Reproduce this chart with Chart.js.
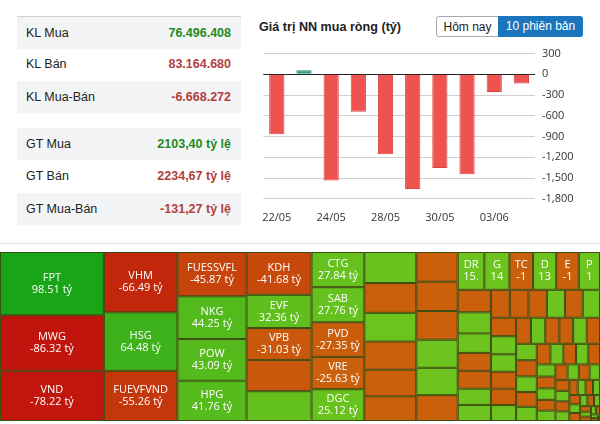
<!DOCTYPE html>
<html>
<head>
<meta charset="utf-8">
<script src="https://cdn.jsdelivr.net/npm/chart.js@4.4.1/dist/chart.umd.min.js"></script>
<style>
  body { margin: 0; width: 600px; height: 424px; background: #fff; position: relative; overflow: hidden;
         font-family: "Liberation Sans", Arial, sans-serif; }
  .row { position: absolute; left: 17px; width: 224px; height: 32.4px; line-height: 32.4px; font-size: 12.5px; color: #222; }
  .row.alt { background: #f3f4f6; }
  .row span { position: absolute; right: 10px; font-weight: bold; }
  .lbl { position: absolute; left: 9px; }
  .up { color: #238a23; }
  .down { color: #b0413e; }
  #title { position: absolute; left: 259px; top: 20px; font-size: 12.6px; font-weight: bold; color: #222; }
  .btn { position: absolute; top: 16px; height: 21px; line-height: 21px; font-size: 12px; text-align: center; box-sizing: border-box; }
  #b1 { left: 436px; width: 63px; border: 1px solid #aaa; border-radius: 3px 0 0 3px; color: #222; }
  #b2 { left: 498px; width: 85px; background: #1b75bc; color: #fff; border-radius: 0 3px 3px 0; }
  #sep { position: absolute; left: 0; top: 243px; width: 600px; height: 1px; background: #e4e4e4; }
  #barWrap { position: absolute; left: 258px; top: 40px; }
  #mapWrap { position: absolute; left: 0; top: 252px; }
</style>
</head>
<body>
<div id="tables"></div>
<div id="title">Giá trị NN mua ròng (tỷ)</div>
<div class="btn" id="b1">Hôm nay</div>
<div class="btn" id="b2">10 phiên bản</div>
<div id="sep"></div>
<div id="barWrap"><canvas id="barChart" width="342" height="188"></canvas></div>
<div id="mapWrap"><canvas id="mapChart" width="600" height="169"></canvas></div>
<script>
// left summary tables
const statLabels = ['KL Mua', 'KL Bán', 'KL Mua-Bán', 'GT Mua', 'GT Bán', 'GT Mua-Bán'];
const statValues = ['76.496.408', '83.164.680', '-6.668.272', '2103,40 tỷ lệ', '2234,67 tỷ lệ', '-131,27 tỷ lệ'];
const statClass = ['up', 'down', 'down', 'up', 'down', 'down'];

// net foreign buy, last 10 sessions
const barDates = ['22/05', '23/05', '24/05', '27/05', '28/05', '29/05', '30/05', '31/05', '03/06', '04/06'];
const barValues = [-865, 60, -1535, -540, -1155, -1660, -1355, -1445, -255, -131.27];
const yMin = -1800, yMax = 300, yStep = 300;

// treemap: ticker and net value (tỷ), sorted by size
const treemapNames = ['FPT', 'MWG', 'VND', 'VHM', 'HSG', 'FUEVFVND', 'FUESSVFL', 'NKG', 'POW', 'HPG',
  'KDH', 'EVF', 'VPB', '', '', 'CTG', 'SAB', 'PVD', 'VRE', 'DGC'];
const treemapValues = [98.51, -86.32, -78.22, -66.49, 64.48, -55.26, -45.87, 44.25, 43.09, 41.76,
  -41.68, 32.36, -31.03, -30.5, 29.0, 27.84, 27.76, -27.35, -25.63, 25.12,
  24.2, -23.2, 22.4, -21.9, -20.8, -19.2,
  -18.4, -18.2, -17.8, 17.4, 17.0, -16.0,
  15.1, 14.2, -13.4, 13.1, -12.8, 12.0,
  -11.2, 10.5, 9.7, -8.9, -8.9, 8.1,
  8.0, -7.9, -7.8, -7.7, 7.6, -7.4, 7.2, -7.0, 6.8, 6.6, -6.4, -6.2, 6.0, -5.8, 5.6, -5.5, -5.4, 5.3,
  -5.2, 5.1, -5.0, 4.8, -4.6, 4.4, -4.2, 4.0, -3.9, 3.8, -3.6, 3.4, -3.3, 3.2, -3.0, 2.9, -2.8, 2.6,
  -2.5, 2.4, -2.3, 2.2, -2.1, 2.0, -1.9, 1.8, -1.7, 1.6, -1.5, 1.4, -1.3, 1.2, -1.1, 1.0, -0.9, 0.8,
  -0.7, 0.6, -0.5, 0.4, -0.3, 0.2];
// the small cells in the top strip carry short labels
const smallLabels = { 32: 'DR', 33: 'G', 34: 'TC', 35: 'D', 36: 'E', 37: 'P' };

const tables = document.getElementById('tables');
statLabels.forEach((lbl, i) => {
  const k = i % 3;
  const top = (i < 3 ? 16 : 128) + k * 32.4;
  const d = document.createElement('div');
  d.className = 'row' + (k !== 1 ? ' alt' : '');
  d.style.top = top + 'px';
  if (i === 0) d.style.borderTop = '1px solid #d0d0d0';
  d.innerHTML = '<div class="lbl">' + lbl + '</div><span class="' + statClass[i] + '">' + statValues[i] + '</span>';
  tables.appendChild(d);
});

new Chart(document.getElementById('barChart'), {
  type: 'bar',
  data: {
    labels: barDates,
    datasets: [{
      data: barValues,
      backgroundColor: barValues.map(v => v >= 0 ? '#2a9d8f' : '#ef5350'),
      borderColor: barValues.map(v => v >= 0 ? '#23897c' : '#d94545'),
      borderWidth: 1,
      barPercentage: 0.56,
      categoryPercentage: 1
    }]
  },
  options: {
    responsive: false,
    animation: false,
    layout: { padding: { left: 4, top: 10 } },
    plugins: { legend: { display: false }, tooltip: { enabled: false } },
    scales: {
      x: {
        grid: { display: false },
        border: { display: false },
        ticks: {
          autoSkip: false, maxRotation: 0, padding: 4, color: '#333',
          font: { family: 'Open Sans', size: 11 },
          callback: (v, i) => i % 2 === 0 ? barDates[i] : ''
        }
      },
      y: {
        position: 'right',
        min: yMin, max: yMax,
        afterFit: s => { s.width = 65; },
        grid: {
          drawTicks: false,
          color: c => c.tick.value === 0 ? '#222' : '#cfcfcf'
        },
        border: { display: false },
        ticks: { stepSize: yStep, padding: 7, color: '#333', font: { family: 'Open Sans', size: 11 } }
      }
    }
  }
});

// squarified layout (same rule as d3.treemapSquarify)
function squarify(values, x0, y0, x1, y1) {
  const out = [];
  const ratio = (1 + Math.sqrt(5)) / 2;
  let total = values.reduce((a, b) => a + b, 0);
  let i0 = 0;
  while (i0 < values.length) {
    const dx = x1 - x0, dy = y1 - y0;
    let i1 = i0;
    let sum = values[i1++], min = sum, max = sum;
    const alpha = Math.max(dy / dx, dx / dy) / (total * ratio);
    let beta = sum * sum * alpha;
    let best = Math.max(max / beta, beta / min);
    for (; i1 < values.length; i1++) {
      const v = values[i1];
      const s = sum + v, mn = Math.min(min, v), mx = Math.max(max, v);
      beta = s * s * alpha;
      const r = Math.max(mx / beta, beta / mn);
      if (r > best) break;
      sum = s; min = mn; max = mx; best = r;
    }
    const row = values.slice(i0, i1);
    if (dx < dy) {
      const h = dy * sum / total;
      let x = x0;
      row.forEach(v => { const w = dx * v / sum; out.push({ x0: x, x1: x + w, y0: y0, y1: y0 + h }); x += w; });
      y0 += h;
    } else {
      const w = dx * sum / total;
      let y = y0;
      row.forEach(v => { const h = dy * v / sum; out.push({ x0: x0, x1: x0 + w, y0: y, y1: y + h }); y += h; });
      x0 += w;
    }
    total -= sum;
    i0 = i1;
  }
  return out;
}

function mix(a, b, t) {
  return 'rgb(' + a.map((c, k) => Math.round(c + (b[k] - c) * t)).join(',') + ')';
}
function cellColor(v) {
  if (v >= 0) return mix([110, 196, 30], [22, 164, 22], Math.min(Math.max((v - 20) / 80, 0), 1));
  return mix([202, 96, 12], [192, 20, 12], Math.min(Math.max((-v - 25) / 55, 0), 1));
}

function fitText(ctx, text, avail, ellipsis) {
  if (ctx.measureText(text).width <= avail) return text;
  let t = text;
  while (t.length > 1 && ctx.measureText(t + (ellipsis ? '...' : '')).width > avail) t = t.slice(0, -1);
  return ellipsis ? t.trim() + '...' : t;
}

const treemapPlugin = {
  id: 'treemap',
  afterDatasetsDraw(chart) {
    const { ctx, scales: { x, y } } = chart;
    const cells = squarify(treemapValues.map(Math.abs), x.min, y.min, x.max, y.max);
    ctx.save();
    cells.forEach((c, i) => {
      const l = x.getPixelForValue(c.x0), r = x.getPixelForValue(c.x1);
      const t = y.getPixelForValue(c.y0), b = y.getPixelForValue(c.y1);
      ctx.fillStyle = cellColor(treemapValues[i]);
      ctx.fillRect(l, t, r - l, b - t);
      ctx.strokeStyle = '#3e4c12';
      ctx.lineWidth = 1;
      ctx.strokeRect(l + 0.5, t + 0.5, r - l - 1, b - t - 1);
    });
    ctx.fillStyle = '#fff';
    ctx.font = '11px "Open Sans"';
    ctx.textAlign = 'center';
    ctx.textBaseline = 'middle';
    cells.forEach((c, i) => {
      const name = i < treemapNames.length ? treemapNames[i] : smallLabels[i];
      if (!name) return;
      const l = x.getPixelForValue(c.x0), r = x.getPixelForValue(c.x1);
      const t = y.getPixelForValue(c.y0), b = y.getPixelForValue(c.y1);
      const w = r - l, cx = (l + r) / 2, cy = (t + b) / 2;
      const small = w < 40;
      const avail = small ? w - 10 : w - 4;
      const val = treemapValues[i].toFixed(2) + ' tỷ';
      ctx.fillText(fitText(ctx, name, avail, !small), cx, cy - 6);
      ctx.fillText(fitText(ctx, val, avail, !small), cx, cy + 6);
    });
    ctx.restore();
  }
};

new Chart(document.getElementById('mapChart'), {
  type: 'scatter',
  data: { datasets: [{ data: [] }] },
  options: {
    responsive: false,
    animation: false,
    layout: { padding: 0 },
    plugins: { legend: { display: false }, tooltip: { enabled: false } },
    scales: {
      x: { type: 'linear', min: 0, max: 600, display: false },
      y: { type: 'linear', min: 0, max: 169, reverse: true, display: false }
    }
  },
  plugins: [treemapPlugin]
});
</script>
</body>
</html>
